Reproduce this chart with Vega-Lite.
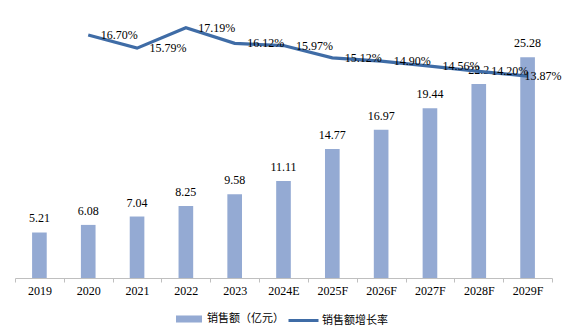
{
  "$schema": "https://vega.github.io/schema/vega-lite/v6.json",
  "width": 537,
  "height": 262,
  "autosize": {"type": "none"},
  "padding": {"left": 15, "top": 16, "right": 15, "bottom": 48},
  "config": {
    "view": {"stroke": null},
    "font": "Liberation Serif",
    "legend": {"padding": 0}
  },
  "data": {
    "values": [
      {"year": "2019", "sales": 5.21, "growth": null},
      {"year": "2020", "sales": 6.08, "growth": 0.1670},
      {"year": "2021", "sales": 7.04, "growth": 0.1579},
      {"year": "2022", "sales": 8.25, "growth": 0.1719},
      {"year": "2023", "sales": 9.58, "growth": 0.1612},
      {"year": "2024E", "sales": 11.11, "growth": 0.1597},
      {"year": "2025F", "sales": 14.77, "growth": 0.1512},
      {"year": "2026F", "sales": 16.97, "growth": 0.1490},
      {"year": "2027F", "sales": 19.44, "growth": 0.1456},
      {"year": "2028F", "sales": 22.2, "growth": 0.1420},
      {"year": "2029F", "sales": 25.28, "growth": 0.1387}
    ]
  },
  "encoding": {
    "x": {
      "field": "year",
      "type": "ordinal",
      "sort": null,
      "scale": {"paddingInner": 0, "paddingOuter": 0},
      "axis": {
        "title": null,
        "labelAngle": 0,
        "tickBand": "extent",
        "domainColor": "#BFBFBF",
        "tickColor": "#BFBFBF",
        "tickSize": 4,
        "labelFontSize": 12,
        "labelColor": "#000000",
        "labelFont": "Liberation Serif",
        "labelPadding": 3,
        "grid": false
      }
    }
  },
  "layer": [
    {
      "encoding": {
        "y": {"field": "sales", "type": "quantitative", "scale": {"domain": [0, 30]}, "axis": null}
      },
      "layer": [
        {
          "mark": {"type": "bar", "width": {"band": 0.3}},
          "encoding": {
            "fill": {
              "datum": "销售额（亿元）",
              "scale": {"range": ["#94AAD3"]},
              "legend": {
                "orient": "none",
                "legendX": 161,
                "legendY": 290,
                "title": null,
                "symbolType": "M-1,-0.27L1,-0.27L1,0.27L-1,0.27Z",
                "symbolSize": 676,
                "symbolStrokeWidth": 0,
                "labelOffset": 5,
                "labelFont": "Noto Sans CJK SC",
                "labelFontSize": 11,
                "labelColor": "#000000"
              }
            }
          }
        },
        {
          "mark": {"type": "text", "dy": -10, "baseline": "alphabetic", "fontSize": 12, "font": "Liberation Serif", "color": "#000000"},
          "encoding": {"text": {"field": "sales", "type": "quantitative"}}
        }
      ]
    },
    {
      "transform": [{"filter": "datum.growth != null"}],
      "encoding": {
        "y": {"field": "growth", "type": "quantitative", "scale": {"domain": [0, 0.18]}, "axis": null}
      },
      "layer": [
        {
          "mark": {"type": "line", "strokeWidth": 3.2},
          "encoding": {
            "stroke": {
              "datum": "销售额增长率",
              "scale": {"range": ["#3F6CA6"]},
              "legend": {
                "orient": "none",
                "legendX": 272,
                "legendY": 288,
                "title": null,
                "symbolType": "stroke",
                "symbolSize": 900,
                "symbolStrokeWidth": 3,
                "labelOffset": 2,
                "labelFont": "Noto Sans CJK SC",
                "labelFontSize": 11,
                "labelColor": "#000000"
              }
            }
          }
        },
        {
          "transform": [{"filter": "datum.year != '2029F'"}],
          "mark": {"type": "text", "align": "left", "dx": 12.5, "baseline": "middle", "fontSize": 12, "font": "Liberation Serif", "color": "#000000"},
          "encoding": {"text": {"field": "growth", "type": "quantitative", "format": ".2%"}}
        },
        {
          "transform": [{"filter": "datum.year == '2029F'"}],
          "mark": {"type": "text", "align": "left", "dx": -3, "baseline": "middle", "fontSize": 12, "font": "Liberation Serif", "color": "#000000"},
          "encoding": {"text": {"field": "growth", "type": "quantitative", "format": ".2%"}}
        }
      ]
    }
  ],
  "resolve": {"scale": {"y": "independent"}}
}
